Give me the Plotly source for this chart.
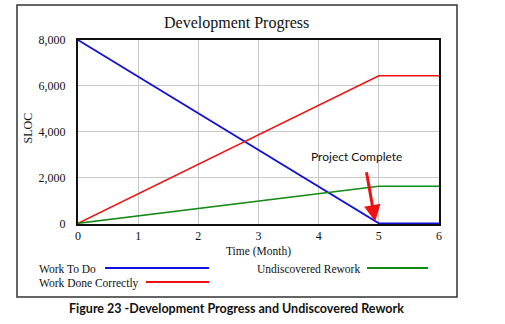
import plotly.graph_objects as go

# ---- data ----
time = [0, 5, 6]
work_to_do = [8000, 0, 0]
work_done_correctly = [0, 6440, 6440]
undiscovered_rework = [0, 1620, 1620]

x_ticks = [0, 1, 2, 3, 4, 5, 6]
y_ticks = [0, 2000, 4000, 6000, 8000]
y_tick_labels = ["0", "2,000", "4,000", "6,000", "8,000"]

W, H = 505, 324
L, R, T, B = 78, 439, 40, 224  # plot area pixel box


def px(x):
    return (x - L) / (R - L)


def py(y):
    return (B - y) / (B - T)


SERIF = "Liberation Serif"
SANS = "Lato"
BLUE = "#1010d8"
RED = "#ee1111"
GREEN = "#138a13"

fig = go.Figure()
fig.add_trace(go.Scatter(x=time, y=work_to_do, mode="lines", name="Work To Do",
                         line=dict(color=BLUE, width=1.8)))
fig.add_trace(go.Scatter(x=time, y=work_done_correctly, mode="lines", name="Work Done Correctly",
                         line=dict(color=RED, width=1.6)))
fig.add_trace(go.Scatter(x=time, y=undiscovered_rework, mode="lines", name="Undiscovered Rework",
                         line=dict(color=GREEN, width=1.6)))

fig.update_layout(
    width=W, height=H,
    margin=dict(l=L, r=W - R, t=T, b=H - B),
    paper_bgcolor="white", plot_bgcolor="white",
    showlegend=False,
    font=dict(family=SERIF, size=12, color="#222"),
)

fig.update_xaxes(range=[0, 6], tickvals=x_ticks, showgrid=True, gridcolor="#c8c8c8", gridwidth=1,
                 showline=True, linecolor="#111", linewidth=2, mirror=True, zeroline=False,
                 ticks="", ticklabelstandoff=0, tickfont=dict(family=SERIF, size=12, color="#111"),
                 layer="below traces")
fig.update_yaxes(range=[-30, 8000], tickvals=y_ticks, ticktext=y_tick_labels, showgrid=True,
                 gridcolor="#c8c8c8", gridwidth=1,
                 showline=True, linecolor="#111", linewidth=2, mirror=True, zeroline=False,
                 ticks="", ticklabelstandoff=8, tickfont=dict(family=SERIF, size=12, color="#111"),
                 layer="below traces")

ann = []
# title
ann.append(dict(text="Development Progress", x=px(236), y=py(23), xref="paper", yref="paper",
                showarrow=False, font=dict(family=SERIF, size=16, color="#111"),
                xanchor="center", yanchor="middle"))
# axis titles
ann.append(dict(text="Time (Month)", x=px(258), y=py(251), xref="paper", yref="paper",
                showarrow=False, font=dict(family=SERIF, size=11.5, color="#111"),
                xanchor="center", yanchor="middle"))
ann.append(dict(text="SLOC", x=px(27.5), y=py(128), xref="paper", yref="paper", textangle=-90,
                showarrow=False, font=dict(family=SERIF, size=12, color="#111"),
                xanchor="center", yanchor="middle"))
# legend texts
for txt, lx, ly in [("Work To Do", 37, 269), ("Work Done Correctly", 37, 283),
                    ("Undiscovered Rework", 255, 269)]:
    ann.append(dict(text=txt, x=px(lx), y=py(ly), xref="paper", yref="paper", showarrow=False,
                    font=dict(family=SERIF, size=11.5, color="#111"), xanchor="left", yanchor="middle"))
# caption
ann.append(dict(text="<b>Figure 23 -Development Progress and Undiscovered Rework</b>",
                x=px(236), y=py(308), xref="paper", yref="paper", showarrow=False,
                font=dict(family=SANS, size=12.5, color="#111"), xanchor="center", yanchor="middle"))
# project complete label + arrow
ann.append(dict(text="Project Complete", x=4.63, y=2900, xref="x", yref="y", showarrow=False,
                font=dict(family=SANS, size=12, color="#111"), xanchor="center", yanchor="middle"))
ann.append(dict(text="", x=4.94, y=80, ax=4.79, ay=2290, xref="x", yref="y", axref="x", ayref="y",
                showarrow=True, arrowhead=2, arrowsize=1.1, arrowwidth=3, arrowcolor=RED))
fig.update_layout(annotations=ann)

shapes = []
# outer frame
shapes.append(dict(type="rect", xref="paper", yref="paper", x0=px(17), x1=px(457), y0=py(5), y1=py(297),
                   line=dict(color="#333", width=1.5), layer="below"))
# legend lines
for c, x0, x1, yy in [(BLUE, 105, 209, 268), (RED, 146, 209, 282), (GREEN, 367, 428, 268)]:
    shapes.append(dict(type="line", xref="paper", yref="paper", x0=px(x0), x1=px(x1), y0=py(yy), y1=py(yy),
                       line=dict(color=c, width=2)))
fig.update_layout(shapes=shapes)

fig.write_html("out.html")
